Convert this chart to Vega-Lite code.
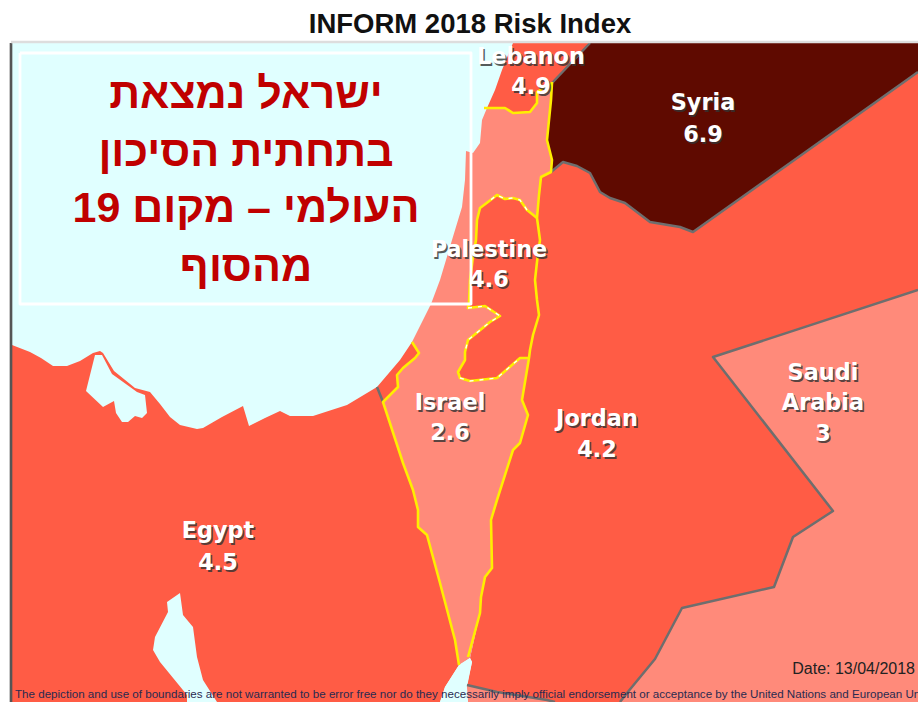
{
"$schema":"https://vega.github.io/schema/vega-lite/v6.json",
"width":918,"height":702,"padding":0,"autosize":"none","background":"white",
"title":{"text":"INFORM 2018 Risk Index","anchor":"middle","frame":"group","dx":11,"offset":-38,"font":"Liberation Sans","fontSize":27.5,"fontWeight":"bold","color":"#111111"},
"view":{"stroke":null},
"projection":{"type":"identity","scale":1,"translate":[0,0]},
"datasets":{
"regions":[
{"type":"Feature","properties":{"name":"Sea"},"geometry":{"type":"Polygon","coordinates":[[[11,43],[918,43],[918,702],[11,702],[11,43]]]}},
{"type":"Feature","properties":{"name":"Syria"},"geometry":{"type":"Polygon","coordinates":[[[590,43],[918,43],[918,72],[693,232],[680,227],[650,222],[625,203],[610,198],[600,192],[590,173],[577,166],[563,162],[551,172],[552,160],[547,140],[549,120],[551,100],[552,83],[590,43]]]}},
{"type":"Feature","properties":{"name":"Lebanon"},"geometry":{"type":"Polygon","coordinates":[[[513,43],[590,43],[552,83],[537,92],[537,103],[530,112],[513,113],[505,108],[487,108],[495,90],[502,70],[513,43]]]}},
{"type":"Feature","properties":{"name":"Jordan"},"geometry":{"type":"Polygon","coordinates":[[[551,172],[563,162],[577,166],[590,173],[600,192],[610,198],[625,203],[650,222],[680,227],[693,232],[918,72],[918,290],[713,357],[833,511],[793,537],[774,587],[682,608],[655,659],[627,693],[620,702],[468,702],[467,685],[472,662],[470,658],[480,613],[481,597],[485,577],[492,568],[491,520],[497,500],[513,450],[520,443],[528,415],[522,400],[529,358],[530,350],[533,335],[539,315],[537,300],[535,280],[537,262],[540,240],[537,218],[539,195],[541,177],[551,172]]]}},
{"type":"Feature","properties":{"name":"Saudi Arabia"},"geometry":{"type":"Polygon","coordinates":[[[918,290],[918,702],[620,702],[627,693],[655,659],[682,608],[774,587],[793,537],[833,511],[713,357],[918,290]]]}},
{"type":"Feature","properties":{"name":"Saudi Arabia"},"geometry":{"type":"Polygon","coordinates":[[[467,685],[497,692],[547,700],[555,702],[468,702],[467,685]]]}},
{"type":"Feature","properties":{"name":"Egypt"},"geometry":{"type":"Polygon","coordinates":[[[12,345],[30,352],[41,358],[53,366],[67,366],[80,361],[93,353],[100,351],[103,353],[114,371],[135,388],[150,392],[160,404],[170,417],[180,425],[197,429],[203,428],[222,417],[243,406],[249,426],[265,418],[280,411],[290,416],[313,416],[347,405],[377,387],[383,402],[403,463],[413,490],[418,510],[418,527],[427,535],[440,583],[455,640],[459,665],[445,687],[440,702],[11,702],[12,345]]]}},
{"type":"Feature","properties":{"name":"Israel"},"geometry":{"type":"Polygon","coordinates":[[[487,108],[505,108],[513,113],[530,112],[537,103],[537,92],[552,83],[551,100],[549,120],[547,140],[552,160],[551,172],[541,177],[539,195],[537,218],[540,240],[537,262],[535,280],[537,300],[539,315],[533,335],[530,350],[529,358],[522,400],[528,415],[520,443],[513,450],[497,500],[491,520],[492,568],[485,577],[481,597],[480,613],[470,658],[459,665],[455,640],[440,583],[427,535],[418,527],[418,510],[413,490],[403,463],[383,402],[398,387],[397,375],[403,368],[415,358],[419,353],[412,342],[431,304],[440,280],[452,240],[462,207],[465,180],[466,151],[473,153],[480,143],[482,120],[487,108]]]}},
{"type":"Feature","properties":{"name":"Palestine"},"geometry":{"type":"Polygon","coordinates":[[[537,218],[527,210],[520,200],[513,198],[505,199],[497,195],[488,202],[480,208],[477,220],[476,240],[473,257],[470,280],[469,303],[468,308],[485,306],[500,316],[490,322],[468,340],[465,352],[465,360],[458,372],[460,378],[470,381],[497,378],[520,358],[529,358],[530,350],[533,335],[539,315],[537,300],[535,280],[537,262],[540,240],[537,218]]]}},
{"type":"Feature","properties":{"name":"Palestine"},"geometry":{"type":"Polygon","coordinates":[[[412,342],[419,353],[415,358],[403,368],[397,375],[398,387],[383,402],[377,387],[400,360],[412,342]]]}},
{"type":"Feature","properties":{"name":"Sea"},"geometry":{"type":"Polygon","coordinates":[[[95,355],[86,391],[103,407],[114,401],[116,413],[122,422],[128,422],[135,416],[142,418],[147,413],[145,395],[137,392],[112,374],[102,355],[95,355]]]}},
{"type":"Feature","properties":{"name":"Sea"},"geometry":{"type":"Polygon","coordinates":[[[180,593],[167,602],[168,612],[155,637],[153,650],[160,662],[187,695],[187,702],[217,702],[203,680],[197,657],[193,627],[183,615],[180,593]]]}},
{"type":"Feature","properties":{"name":"Sea"},"geometry":{"type":"Polygon","coordinates":[[[470,658],[472,662],[467,687],[468,702],[440,702],[445,687],[459,665],[470,658]]]}}
],
"borders":[
{"type":"Feature","properties":{"kind":"grey"},"geometry":{"type":"LineString","coordinates":[[590,43],[552,83]]}},
{"type":"Feature","properties":{"kind":"grey"},"geometry":{"type":"LineString","coordinates":[[551,172],[563,162],[577,166],[590,173],[600,192],[610,198],[625,203],[650,222],[680,227],[693,232],[918,72]]}},
{"type":"Feature","properties":{"kind":"grey"},"geometry":{"type":"LineString","coordinates":[[918,290],[713,357],[833,511],[793,537],[774,587],[682,608],[655,659],[627,693],[620,702]]}},
{"type":"Feature","properties":{"kind":"grey"},"geometry":{"type":"LineString","coordinates":[[467,685],[497,692],[547,700],[555,702]]}},
{"type":"Feature","properties":{"kind":"grey"},"geometry":{"type":"LineString","coordinates":[[377,387],[383,402]]}},
{"type":"Feature","properties":{"kind":"yellow"},"geometry":{"type":"LineString","coordinates":[[484,108],[505,108],[513,113],[530,112],[537,103],[537,92],[552,83],[551,100],[549,120],[547,140],[552,160],[551,172],[541,177],[539,195],[537,218],[540,240],[537,262],[535,280],[537,300],[539,315],[533,335],[530,350],[529,358],[522,400],[528,415],[520,443],[513,450],[497,500],[491,520],[492,568],[485,577],[481,597],[480,613],[468,657]]}},
{"type":"Feature","properties":{"kind":"yellow"},"geometry":{"type":"LineString","coordinates":[[459,665],[455,640],[440,583],[427,535],[418,527],[418,510],[413,490],[403,463],[383,402],[398,387],[397,375],[403,368],[415,358],[419,353],[412,342]]}},
{"type":"Feature","properties":{"kind":"yellow"},"geometry":{"type":"LineString","coordinates":[[537,218],[527,210],[520,200],[513,198],[505,199],[497,195],[488,202],[480,208],[477,220],[476,240],[473,257],[470,280],[469,303],[468,308],[485,306],[500,316],[490,322],[468,340],[465,352],[465,360],[458,372],[460,378],[470,381],[497,378],[520,358],[529,358]]}},
{"type":"Feature","properties":{"kind":"frameLeft"},"geometry":{"type":"LineString","coordinates":[[11,43],[11,702]]}},
{"type":"Feature","properties":{"kind":"frameTop"},"geometry":{"type":"LineString","coordinates":[[11,42],[918,42]]}},
{"type":"Feature","properties":{"kind":"box"},"geometry":{"type":"LineString","coordinates":[[20,53],[471,53],[471,304],[20,304],[20,53]]}}
],
"dashes":[
{"type":"Feature","properties":{"kind":"white"},"geometry":{"type":"LineString","coordinates":[[527,210],[520,200],[513,198],[505,199],[497,195],[488,202]]}},
{"type":"Feature","properties":{"kind":"white"},"geometry":{"type":"LineString","coordinates":[[468,308],[485,306],[500,316],[490,322],[468,340],[465,352]]}},
{"type":"Feature","properties":{"kind":"white"},"geometry":{"type":"LineString","coordinates":[[460,378],[470,381],[497,378],[520,358]]}}
],
"labels":[
{"lon":531,"lat":57,"label":"Lebanon"},{"lon":531,"lat":87,"label":"4.9"},
{"lon":703,"lat":103,"label":"Syria"},{"lon":703,"lat":135,"label":"6.9"},
{"lon":489,"lat":250,"label":"Palestine"},{"lon":489,"lat":280,"label":"4.6"},
{"lon":450,"lat":403,"label":"Israel"},{"lon":450,"lat":433,"label":"2.6"},
{"lon":597,"lat":419,"label":"Jordan"},{"lon":597,"lat":450,"label":"4.2"},
{"lon":218,"lat":531,"label":"Egypt"},{"lon":218,"lat":563,"label":"4.5"},
{"lon":823,"lat":373,"label":"Saudi"},{"lon":823,"lat":403,"label":"Arabia"},{"lon":823,"lat":434,"label":"3"}
],
"hebrew":[
{"lon":246,"lat":95,"line":"ישראל נמצאת"},
{"lon":246,"lat":153,"line":"בתחתית הסיכון"},
{"lon":246,"lat":209,"line":"העולמי – מקום 19"},
{"lon":246,"lat":268,"line":"מהסוף"}
],
"date":[{"lon":915,"lat":669,"line":"Date: 13/04/2018"}],
"note":[{"lon":15,"lat":695,"line":"The depiction and use of boundaries are not warranted to be error free nor do they necessarily imply official endorsement or acceptance by the United Nations and European Union"}]
},
"layer":[
{"data":{"name":"regions"},"mark":{"type":"geoshape","strokeWidth":0,"clip":true},
 "encoding":{"fill":{"field":"properties.name","type":"nominal","legend":null,"scale":{"domain":["Sea","Syria","Lebanon","Jordan","Saudi Arabia","Egypt","Israel","Palestine"],"range":["#e0ffff","#5f0a00","#ff5c45","#ff5c45","#ff8a7a","#ff5c45","#ff8a7a","#ff5c45"]}}}},
{"data":{"name":"borders"},"mark":{"type":"geoshape","filled":false,"strokeJoin":"round"},
 "encoding":{"stroke":{"field":"properties.kind","type":"nominal","legend":null,"scale":{"domain":["grey","yellow","frameLeft","frameTop","box"],"range":["#6e6e6e","#ffee00","#555555","#dddddd","#ffffff"]}},
 "strokeWidth":{"field":"properties.kind","type":"nominal","legend":null,"scale":{"domain":["grey","yellow","frameLeft","frameTop","box"],"range":[2.5,2.8,1.5,1.5,1]}}}},
{"data":{"name":"dashes"},"mark":{"type":"geoshape","filled":false,"stroke":"#ffffff","strokeWidth":1.4,"strokeDash":[4,6]},"encoding":{}},
{"data":{"name":"labels"},"mark":{"type":"text","font":"DejaVu Sans","fontSize":22.4,"fontWeight":"bold","color":"#333333","opacity":0.8,"dx":1.5,"dy":1.5},
 "encoding":{"longitude":{"field":"lon","type":"quantitative"},"latitude":{"field":"lat","type":"quantitative"},"text":{"field":"label"}}},
{"data":{"name":"labels"},"mark":{"type":"text","font":"DejaVu Sans","fontSize":22.4,"fontWeight":"bold","color":"#ffffff"},
 "encoding":{"longitude":{"field":"lon","type":"quantitative"},"latitude":{"field":"lat","type":"quantitative"},"text":{"field":"label"}}},
{"data":{"name":"hebrew"},"mark":{"type":"text","font":"Liberation Sans","fontSize":43,"fontWeight":"bold","color":"#c00000"},
 "encoding":{"longitude":{"field":"lon","type":"quantitative"},"latitude":{"field":"lat","type":"quantitative"},"text":{"field":"line"}}},
{"data":{"name":"date"},"mark":{"type":"text","font":"Liberation Sans","fontSize":16,"align":"right","color":"#222222"},
 "encoding":{"longitude":{"field":"lon","type":"quantitative"},"latitude":{"field":"lat","type":"quantitative"},"text":{"field":"line"}}},
{"data":{"name":"note"},"mark":{"type":"text","font":"Liberation Sans","fontSize":11.6,"align":"left","color":"#2a2a50"},
 "encoding":{"longitude":{"field":"lon","type":"quantitative"},"latitude":{"field":"lat","type":"quantitative"},"text":{"field":"line"}}}
]
}
